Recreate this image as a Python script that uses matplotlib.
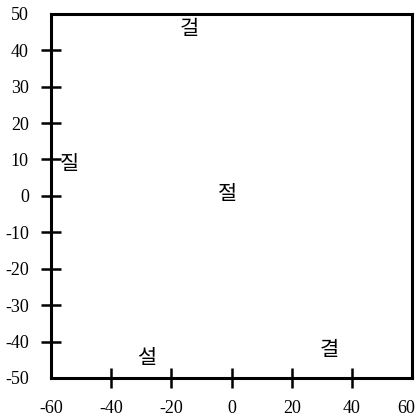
import matplotlib
matplotlib.use("Agg")
import matplotlib.pyplot as plt

# syllables and where they sit
labels = ["걸", "질", "절", "설", "결"]
xs = [-14, -54, -1.5, -28, 32.5]
ys = [45.8, 8.8, 0.5, -44.5, -42.3]

xticks = [-40, -20, 0, 20, 40]
yticks = [-40, -30, -20, -10, 0, 10, 20, 30, 40]
# corner values are written without ticks
xcorner = [-60, 60]
ycorner = [-50, 50]

serif = "Liberation Serif"

fig = plt.figure(figsize=(4.18, 4.19), dpi=100)
ax = fig.add_axes([0.122, 0.098, 0.864, 0.869])

for lab, x, y in zip(labels, xs, ys):
    ax.text(x, y, lab, ha="center", va="center", fontsize=15,
            family=["Noto Sans CJK KR", "DejaVu Sans"], color="black")

ax.set_xlim(-60, 60)
ax.set_ylim(-50, 50)
ax.set_xticks(xticks)
ax.set_yticks(yticks)
ax.set_xticklabels([str(v) for v in xticks], family=serif)
ax.set_yticklabels([str(v) for v in yticks], family=serif)
ax.tick_params(direction="inout", length=14, width=1.8, labelsize=13)
ax.tick_params(axis="x", pad=9)
ax.tick_params(axis="y", pad=9)

for sp in ax.spines.values():
    sp.set_linewidth(2.2)

for v in xcorner:
    dx = -4 if v > 0 else 0
    ax.annotate(str(v), xy=(v, -50), xytext=(dx, -16), textcoords="offset points",
                ha="center", va="top", fontsize=13, family=serif)
for v in ycorner:
    ax.annotate(str(v), xy=(-60, v), xytext=(-16, 0), textcoords="offset points",
                ha="right", va="center_baseline", fontsize=13, family=serif)

fig.savefig("out.png", dpi=100)
